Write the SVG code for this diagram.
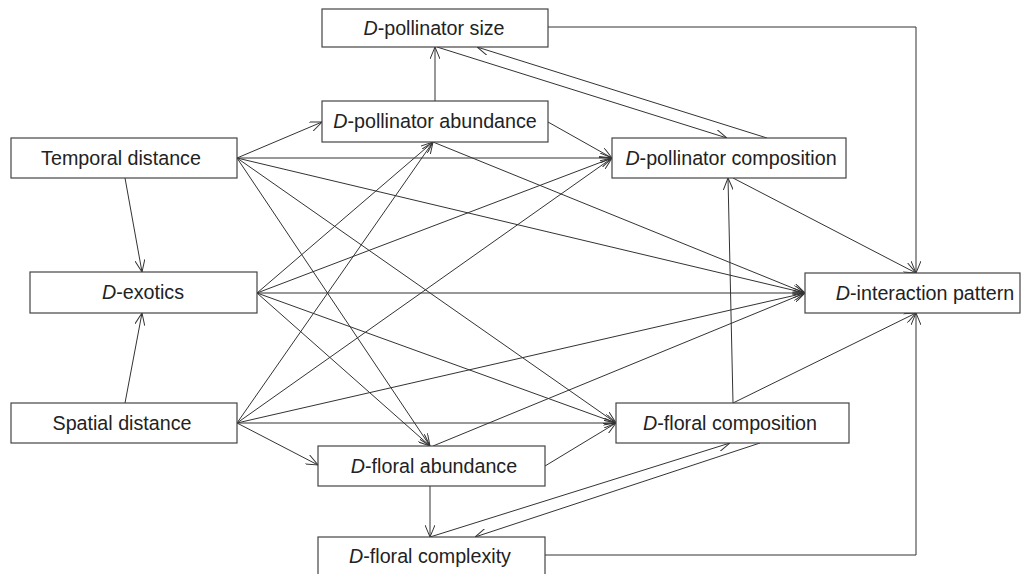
<svg xmlns="http://www.w3.org/2000/svg" width="1021" height="574" viewBox="0 0 1021 574">
<defs>
<marker id="arr" markerUnits="userSpaceOnUse" viewBox="0 0 12 10" refX="12" refY="5" markerWidth="12" markerHeight="10" orient="auto">
<path d="M0,0 L12,5 L0,10" fill="none" stroke="#333" stroke-width="1"/>
</marker>
<style>
.box{fill:#fff;stroke:#444;stroke-width:1.2}
.lbl{font-family:"Liberation Sans",Arial,sans-serif;font-size:19.7px;fill:#222;text-anchor:middle}
.it{font-style:italic}
.e{fill:none;stroke:#333;stroke-width:1;marker-end:url(#arr)}
</style>
</defs>
<rect width="1021" height="574" fill="#fff"/>
<g id="connectors">
<line class="e" x1="125" y1="178" x2="142" y2="272"/>
<line class="e" x1="125" y1="403" x2="142" y2="313"/>
<line class="e" x1="237" y1="158" x2="322" y2="122"/>
<line class="e" x1="237" y1="158" x2="612" y2="158"/>
<line class="e" x1="237" y1="158" x2="805" y2="293"/>
<line class="e" x1="237" y1="158" x2="616" y2="423"/>
<line class="e" x1="237" y1="158" x2="430" y2="446"/>
<line class="e" x1="257" y1="293" x2="433" y2="142"/>
<line class="e" x1="257" y1="293" x2="612" y2="158"/>
<line class="e" x1="257" y1="293" x2="805" y2="293"/>
<line class="e" x1="257" y1="293" x2="616" y2="423"/>
<line class="e" x1="257" y1="293" x2="430" y2="446"/>
<line class="e" x1="237" y1="423" x2="433" y2="142"/>
<line class="e" x1="237" y1="423" x2="612" y2="158"/>
<line class="e" x1="237" y1="423" x2="805" y2="293"/>
<line class="e" x1="237" y1="423" x2="616" y2="423"/>
<line class="e" x1="237" y1="423" x2="318" y2="465"/>
<line class="e" x1="435" y1="101" x2="435" y2="47"/>
<line class="e" x1="548" y1="122" x2="612" y2="158"/>
<line class="e" x1="433" y1="142" x2="805" y2="293"/>
<line class="e" x1="437" y1="47" x2="727" y2="138"/>
<line class="e" x1="767" y1="138" x2="477" y2="47"/>
<polyline class="e" points="548,27 916,27 916,273"/>
<line class="e" x1="733" y1="178" x2="916" y2="273"/>
<line class="e" x1="733" y1="403" x2="728" y2="178"/>
<line class="e" x1="733" y1="403" x2="916" y2="313"/>
<line class="e" x1="545" y1="466" x2="616" y2="423"/>
<line class="e" x1="433" y1="446" x2="805" y2="293"/>
<line class="e" x1="430" y1="486" x2="430" y2="537"/>
<line class="e" x1="430" y1="537" x2="730" y2="443"/>
<line class="e" x1="760" y1="443" x2="475" y2="537"/>
<polyline class="e" points="545,555 916,555 916,313"/>
</g>
<g id="psize"><rect class="box" x="322" y="9" width="226" height="38"/><text class="lbl" x="434" y="35"><tspan class="it">D</tspan>-pollinator size</text></g>
<g id="pabund"><rect class="box" x="322" y="101" width="226" height="41"/><text class="lbl" x="435" y="128"><tspan class="it">D</tspan>-pollinator abundance</text></g>
<g id="pcomp"><rect class="box" x="612" y="138" width="234" height="40"/><text class="lbl" x="731" y="165"><tspan class="it">D</tspan>-pollinator composition</text></g>
<g id="temporal"><rect class="box" x="11" y="138" width="226" height="40"/><text class="lbl" x="121" y="165">Temporal distance</text></g>
<g id="exotics"><rect class="box" x="30" y="272" width="227" height="41"/><text class="lbl" x="143" y="299"><tspan class="it">D</tspan>-exotics</text></g>
<g id="interaction"><rect class="box" x="805" y="273" width="215" height="40"/><text class="lbl" x="925" y="300"><tspan class="it">D</tspan>-interaction pattern</text></g>
<g id="spatial"><rect class="box" x="11" y="403" width="226" height="40"/><text class="lbl" x="122" y="430">Spatial distance</text></g>
<g id="fcomp"><rect class="box" x="616" y="403" width="233" height="40"/><text class="lbl" x="730" y="430"><tspan class="it">D</tspan>-floral composition</text></g>
<g id="fabund"><rect class="box" x="318" y="446" width="227" height="40"/><text class="lbl" x="434" y="473"><tspan class="it">D</tspan>-floral abundance</text></g>
<g id="fcomplex"><rect class="box" x="318" y="537" width="227" height="44"/><text class="lbl" x="430" y="563"><tspan class="it">D</tspan>-floral complexity</text></g>
</svg>
